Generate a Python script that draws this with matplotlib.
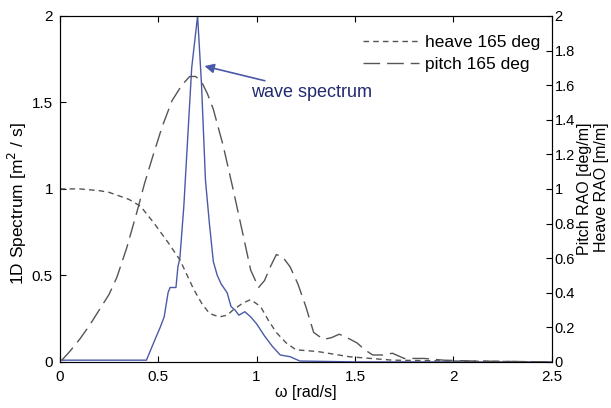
import matplotlib
matplotlib.use("Agg")
import matplotlib.pyplot as plt

plt.rcParams["font.family"] = ["Liberation Sans", "DejaVu Sans"]

# wave spectrum (left axis) [m^2/s]
spec_w = [0.0, 0.1, 0.2, 0.3, 0.40, 0.44, 0.48, 0.51, 0.53, 0.55, 0.56, 0.59, 0.60,
          0.61, 0.63, 0.65, 0.67, 0.70, 0.72, 0.74, 0.76, 0.78, 0.80, 0.82, 0.85,
          0.87, 0.89, 0.91, 0.94, 0.97, 1.00, 1.04, 1.08, 1.12, 1.17, 1.22, 1.5,
          2.0, 2.5]
spec_v = [0.01, 0.01, 0.01, 0.01, 0.01, 0.01, 0.12, 0.20, 0.26, 0.40, 0.43, 0.43, 0.55,
          0.60, 0.90, 1.30, 1.70, 2.00, 1.60, 1.05, 0.80, 0.58, 0.50, 0.45, 0.40,
          0.32, 0.30, 0.27, 0.29, 0.26, 0.22, 0.15, 0.09, 0.04, 0.03, 0.005, 0.0,
          0.0, 0.0]

# heave RAO (right axis) [m/m]
heave_w = [0.0, 0.1, 0.2, 0.25, 0.3, 0.35, 0.41, 0.48, 0.55, 0.61, 0.68, 0.72, 0.76,
           0.81, 0.85, 0.88, 0.93, 0.97, 1.02, 1.06, 1.10, 1.15, 1.20, 1.31, 1.47,
           1.69, 2.0, 2.5]
heave_v = [1.0, 1.0, 0.99, 0.98, 0.96, 0.94, 0.90, 0.80, 0.69, 0.59, 0.42, 0.34, 0.28,
           0.26, 0.27, 0.30, 0.34, 0.36, 0.32, 0.24, 0.17, 0.11, 0.07, 0.06, 0.03,
           0.01, 0.005, 0.0]

# pitch RAO (right axis) [deg/m]
pitch_w = [0.01, 0.05, 0.1, 0.15, 0.2, 0.25, 0.29, 0.34, 0.39, 0.43, 0.47, 0.52, 0.57,
           0.62, 0.66, 0.69, 0.72, 0.75, 0.78, 0.83, 0.88, 0.93, 0.97, 1.01, 1.04,
           1.07, 1.10, 1.13, 1.17, 1.21, 1.25, 1.29, 1.34, 1.38, 1.42, 1.46, 1.51,
           1.55, 1.59, 1.64, 1.69, 1.75, 1.85, 1.95, 2.1, 2.5]
pitch_v = [0.01, 0.06, 0.13, 0.21, 0.30, 0.39, 0.49, 0.66, 0.86, 1.03, 1.18, 1.36, 1.51,
           1.60, 1.65, 1.65, 1.62, 1.55, 1.46, 1.25, 1.00, 0.74, 0.53, 0.43, 0.47,
           0.55, 0.62, 0.61, 0.55, 0.45, 0.32, 0.17, 0.13, 0.14, 0.16, 0.14, 0.11,
           0.07, 0.04, 0.04, 0.05, 0.02, 0.02, 0.01, 0.005, 0.0]

BLUE = "#4a5aa8"
GRAY = "#555555"

fig = plt.figure(figsize=(6.11, 4.08), dpi=100)
ax = fig.add_axes([0.098, 0.113, 0.805, 0.848])
ax.plot(spec_w, spec_v, color=BLUE, lw=1.0)
ax.set_xlim(0, 2.5)
ax.set_ylim(0, 2)
ax.set_xticks([0, 0.5, 1, 1.5, 2, 2.5])
ax.set_xticklabels(["0", "0.5", "1", "1.5", "2", "2.5"])
ax.set_yticks([0, 0.5, 1, 1.5, 2])
ax.set_yticklabels(["0", "0.5", "1", "1.5", "2"])
ax.tick_params(direction="in", top=True, labelsize=11, length=4)
ax.tick_params(axis="x", pad=6)
ax.tick_params(axis="y", pad=5)
for s in ax.spines.values():
    s.set_color("#444444")
# axis titles placed where the scan has them
fig.text(0.50, 0.037, "ω [rad/s]", fontsize=11.5, ha="center", va="center")
fig.text(0.028, 0.502, "1D Spectrum [m$^2$ / s]", rotation=90, fontsize=12.5,
         ha="center", va="center")

ax.annotate("wave spectrum", xy=(0.735, 1.71), xytext=(0.97, 1.56),
            color="#222a70", fontsize=13, va="center", ha="left",
            arrowprops=dict(arrowstyle="-|>", color="#4a5aa8", lw=1.2,
                            shrinkA=0, shrinkB=0, mutation_scale=14))

ax2 = ax.twinx()
ax2.plot(heave_w, heave_v, color=GRAY, lw=1.0, dashes=(4, 3), label="heave 165 deg")
ax2.plot(pitch_w, pitch_v, color=GRAY, lw=1.0, dashes=(12, 5), label="pitch 165 deg")
ax2.set_ylim(0, 2)
ax2.set_yticks([0, 0.2, 0.4, 0.6, 0.8, 1, 1.2, 1.4, 1.6, 1.8, 2])
ax2.set_yticklabels(["0", "0.2", "0.4", "0.6", "0.8", "1", "1.2", "1.4", "1.6", "1.8", "2"])
ax2.tick_params(direction="in", labelsize=10.5, length=4, pad=2)
fig.text(0.957, 0.70, "Pitch RAO [deg/m]", rotation=90, fontsize=11.5,
         ha="center", va="top")
fig.text(0.985, 0.70, "Heave RAO [m/m]", rotation=90, fontsize=11.5,
         ha="center", va="top")
ax2.legend(loc="upper right", bbox_to_anchor=(1.02, 1.005), frameon=False,
           fontsize=12.5, handlelength=3.2, handletextpad=0.4,
           borderaxespad=0.8, labelspacing=0.4)

fig.savefig("out.png", dpi=100, facecolor="white")
